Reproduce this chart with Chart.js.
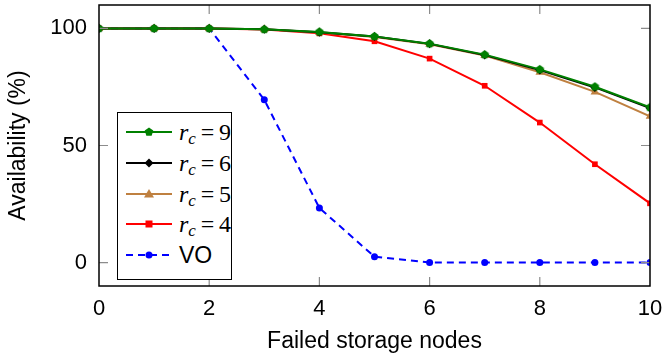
<!DOCTYPE html>
<html>
<head>
<meta charset="utf-8">
<script src="https://cdn.jsdelivr.net/npm/chart.js@4.4.1/dist/chart.umd.min.js"></script>
<style>
  html, body { margin: 0; padding: 0; background: #fff; }
  #wrap { position: relative; width: 663px; height: 360px; }
  #legend {
    position: absolute; left: 117px; top: 112px; width: 113px; height: 162px;
    border: 1.5px solid #000; background: #fff; box-sizing: content-box;
    padding-top: 4px;
  }
  .row { position: relative; height: 30.8px; }
  .row svg { position: absolute; left: 8px; top: 4px; }
  .row .lab { position: absolute; left: 61px; top: 0; line-height: 30.8px; white-space: nowrap; color: #000; }
  .math { font-family: "Liberation Serif", "DejaVu Serif", serif; font-size: 24px; }
  .math i { font-style: italic; }
  .math sub { font-size: 17px; vertical-align: -4px; line-height: 0; }
  .sans { font-family: "Liberation Sans", Arial, sans-serif; font-size: 23px; }
</style>
</head>
<body>
<div id="wrap">
  <canvas id="c" width="663" height="360"></canvas>
  <div id="legend"></div>
</div>
<script>
// ---- data ----
const failedNodes = [0, 1, 2, 3, 4, 5, 6, 7, 8, 9, 10];
const rc9 = [100, 100, 100, 99.6, 98.5, 96.6, 93.5, 88.8, 82.5, 75.1, 66.3];
const rc6 = [100, 100, 100, 99.6, 98.4, 96.5, 93.4, 88.6, 82.2, 74.8, 66.0];
const rc5 = [100, 100, 100, 99.6, 98.3, 96.3, 93.2, 88.4, 81.3, 72.9, 62.5];
const rc4 = [100, 100, 100, 99.5, 97.9, 94.5, 87.1, 75.5, 59.8, 42.0, 25.3];
const vo  = [100, 100, 100, 69.5, 23.3, 2.5, 0, 0, 0, 0, 0];
const xTicks = [0, 2, 4, 6, 8, 10];
const yTicks = [0, 50, 100];
const seriesLabels = ['r_c = 9', 'r_c = 6', 'r_c = 5', 'r_c = 4', 'VO'];

const GREEN = 'rgb(0,128,0)', BLACK = '#000', BROWN = 'rgb(191,128,64)', RED = 'rgb(255,0,0)', BLUE = 'rgb(0,0,255)';

function pentagon(color, r) {
  const c = document.createElement('canvas');
  const s = Math.ceil(r * 2 + 2);
  c.width = s; c.height = s;
  const g = c.getContext('2d');
  g.fillStyle = color;
  g.beginPath();
  for (let i = 0; i < 5; i++) {
    const a = -Math.PI / 2 + i * 2 * Math.PI / 5;
    const px = s / 2 + r * Math.cos(a), py = s / 2 + r * Math.sin(a);
    if (i === 0) g.moveTo(px, py); else g.lineTo(px, py);
  }
  g.closePath(); g.fill();
  return c;
}
const pent = pentagon(GREEN, 4.5);

const pts = arr => failedNodes.map((x, i) => ({ x: x, y: arr[i] }));

const common = { borderWidth: 2, pointBorderWidth: 0, tension: 0, fill: false };
const datasets = [
  Object.assign({ label: seriesLabels[0], data: pts(rc9), borderColor: GREEN, backgroundColor: GREEN, pointStyle: pent, pointRadius: 4.5 }, common),
  Object.assign({ label: seriesLabels[1], data: pts(rc6), borderColor: BLACK, backgroundColor: BLACK, pointStyle: 'rectRot', pointRadius: 4.5 }, common),
  Object.assign({ label: seriesLabels[2], data: pts(rc5), borderColor: BROWN, backgroundColor: BROWN, pointStyle: 'triangle', pointRadius: 5 }, common),
  Object.assign({ label: seriesLabels[3], data: pts(rc4), borderColor: RED, backgroundColor: RED, pointStyle: 'rect', pointRadius: 4 }, common),
  Object.assign({ label: seriesLabels[4], data: pts(vo), borderColor: BLUE, backgroundColor: BLUE, pointStyle: 'circle', pointRadius: 3.5, borderDash: [7, 5] }, common)
];

const frame = {
  id: 'frame',
  afterDatasetsDraw(chart) {
    const { ctx, chartArea: a, scales } = chart;
    ctx.save();
    ctx.strokeStyle = '#8c8c8c';
    ctx.lineWidth = 1.2;
    const L = 9;
    xTicks.forEach(v => {
      const px = scales.x.getPixelForValue(v);
      if (v === 0 || v === 10) return;
      ctx.beginPath();
      ctx.moveTo(px, a.bottom); ctx.lineTo(px, a.bottom - L);
      ctx.moveTo(px, a.top); ctx.lineTo(px, a.top + L);
      ctx.stroke();
    });
    yTicks.forEach(v => {
      const py = scales.y.getPixelForValue(v);
      ctx.beginPath();
      ctx.moveTo(a.left, py); ctx.lineTo(a.left + L, py);
      ctx.moveTo(a.right, py); ctx.lineTo(a.right - L, py);
      ctx.stroke();
    });
    ctx.strokeStyle = '#000';
    ctx.lineWidth = 1.5;
    ctx.strokeRect(a.left, a.top, a.right - a.left, a.bottom - a.top);
    ctx.restore();
  }
};

function fixFit(w, h) {
  return function (s) {
    if (w !== null) s.width = w;
    if (h !== null) s.height = h;
    s.paddingTop = 0; s.paddingBottom = 0; s.paddingLeft = 0; s.paddingRight = 0;
  };
}

new Chart(document.getElementById('c'), {
  type: 'line',
  data: { datasets: datasets },
  options: {
    responsive: false,
    animation: false,
    devicePixelRatio: 1,
    layout: { padding: { left: 0, top: 5, right: 13, bottom: 0 } },
    plugins: { legend: { display: false }, tooltip: { enabled: false } },
    scales: {
      x: {
        type: 'linear', min: 0, max: 10,
        grid: { display: false, drawTicks: false },
        border: { display: false },
        afterBuildTicks: s => { s.ticks = xTicks.map(v => ({ value: v })); },
        afterFit: fixFit(null, 74),
        ticks: { color: '#000', font: { family: '"Liberation Sans", Arial, sans-serif', size: 22 }, padding: 10, maxRotation: 0, autoSkip: false },
        title: { display: true, text: 'Failed storage nodes', color: '#000', font: { family: '"Liberation Sans", Arial, sans-serif', size: 23 }, padding: { top: 0, bottom: 5 } }
      },
      y: {
        type: 'linear', min: -10, max: 110,
        grid: { display: false, drawTicks: false },
        border: { display: false },
        afterBuildTicks: s => { s.ticks = yTicks.map(v => ({ value: v })); },
        afterFit: fixFit(99, null),
        ticks: { color: '#000', font: { family: '"Liberation Sans", Arial, sans-serif', size: 22 }, padding: 12 },
        title: { display: true, text: 'Availability (%)', color: '#000', font: { family: '"Liberation Sans", Arial, sans-serif', size: 23 }, padding: { top: 5, bottom: 0 } }
      }
    }
  },
  plugins: [frame]
});

// ---- HTML legend ----
function markerSVG(ds) {
  const cx = 23, cy = 11, col = ds.borderColor;
  let line = `<line x1="0" y1="${cy}" x2="46" y2="${cy}" stroke="${col}" stroke-width="2"${ds.borderDash ? ' stroke-dasharray="7 5" stroke-dashoffset="0"' : ''}/>`;
  let m = '';
  if (ds.pointStyle === pent) {
    const p = [];
    for (let i = 0; i < 5; i++) { const a = -Math.PI / 2 + i * 2 * Math.PI / 5; p.push((cx + 4.5 * Math.cos(a)).toFixed(2) + ',' + (cy + 4.5 * Math.sin(a)).toFixed(2)); }
    m = `<polygon points="${p.join(' ')}" fill="${col}"/>`;
  } else if (ds.pointStyle === 'rectRot') {
    m = `<polygon points="${cx},${cy - 4.5} ${cx + 4.5},${cy} ${cx},${cy + 4.5} ${cx - 4.5},${cy}" fill="${col}"/>`;
  } else if (ds.pointStyle === 'triangle') {
    m = `<polygon points="${cx},${cy - 5} ${cx + 5},${cy + 3.5} ${cx - 5},${cy + 3.5}" fill="${col}"/>`;
  } else if (ds.pointStyle === 'rect') {
    m = `<rect x="${cx - 3.5}" y="${cy - 3.5}" width="7" height="7" fill="${col}"/>`;
  } else {
    m = `<circle cx="${cx}" cy="${cy}" r="3.5" fill="${col}"/>`;
  }
  return `<svg width="46" height="22" viewBox="0 0 46 22">${line}${m}</svg>`;
}
function labelHTML(t) {
  const m = t.match(/^r_c = (.*)$/);
  if (m) return `<span class="math"><i>r</i><sub><i>c</i></sub>&#8201;=&#8201;${m[1]}</span>`;
  return `<span class="sans">${t}</span>`;
}
const leg = document.getElementById('legend');
datasets.forEach(ds => {
  const row = document.createElement('div');
  row.className = 'row';
  row.innerHTML = markerSVG(ds) + `<div class="lab">${labelHTML(ds.label)}</div>`;
  leg.appendChild(row);
});
</script>
</body>
</html>
